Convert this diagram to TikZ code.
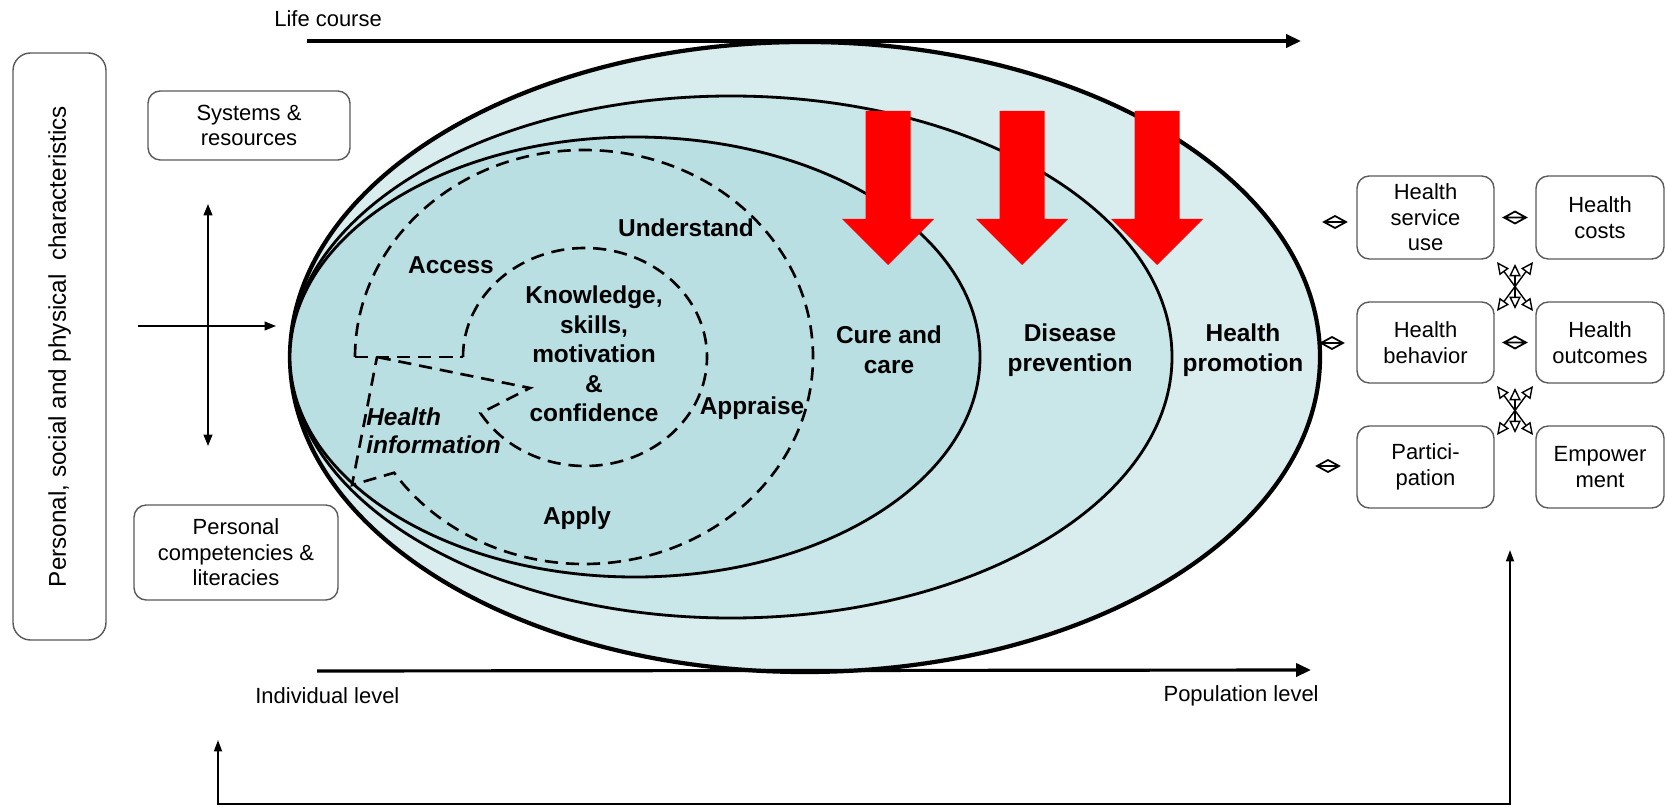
\documentclass[tikz,border=0pt]{standalone}
\usepackage{fontspec}
\setmainfont{Liberation Sans}
\usetikzlibrary{arrows.meta,calc}
\definecolor{ringA}{HTML}{D9ECEE}
\definecolor{ringB}{HTML}{C9E6E9}
\definecolor{ringC}{HTML}{B9DFE3}
\definecolor{boxline}{HTML}{5A5A5A}
\definecolor{arrowred}{HTML}{FF0000}
\newcommand\upx{0.02cm}
\newcommand\redarrow[1]{\fill[arrowred] (#1,111) ++(-22.5,0) -- ++(45,0) -- ++(0,108) -- ++(23.5,0) -- ++(-46,46) -- ++(-46,-46) -- ++(23.5,0) -- cycle;}
\newcommand\smalldbl[1]{\draw[dmd] (#1) ++(-11,0) -- ++(22,0) (#1) ++(-11,0) -- ++(11,-6) -- ++(11,6) -- ++(-11,6) -- cycle;}
\begin{document}
\begin{tikzpicture}[x=0.02cm,y=-0.02cm,
  lbl/.style={font=\fontsize{12.5}{14.5}\selectfont, align=center, inner sep=0pt},
  blbl/.style={font=\fontsize{13.9}{16.8}\selectfont\bfseries, align=center, inner sep=0pt},
  rbox/.style={draw=boxline, line width=0.8pt, rounded corners=7pt, fill=white, inner sep=0pt, align=center, font=\fontsize{12.5}{14.5}\selectfont},
  ring/.style={draw=black, line width=1.6pt},
  outring/.style={draw=black, line width=2.4pt},
  dsh/.style={draw=black, line width=1.5pt, dash pattern=on 7.5pt off 4.5pt},
  lcarrow/.style={line width=1.8pt, -{Triangle[length=8.5pt,width=7.5pt]}},
  crossarrow/.style={line width=1pt, {Triangle[length=6.5pt,width=5pt]}-{Triangle[length=6.5pt,width=5pt]}},
  onearrow/.style={line width=1pt, -{Triangle[length=6.5pt,width=5pt]}},
  fbarrow/.style={line width=1.1pt, {Triangle[length=6.5pt,width=4.5pt]}-{Triangle[length=6.5pt,width=4.5pt]}},
  xarr/.style={line width=0.8pt, {Triangle[open,length=7pt,width=6.5pt]}-{Triangle[open,length=7pt,width=6.5pt]}},
  dmd/.style={line width=1pt}
]
\useasboundingbox (0,0) rectangle (1665,807);

% nested ellipses
\fill[ringA] (805,357) ellipse [x radius=515, y radius=315];
\draw[outring] (805,357) ellipse [x radius=515, y radius=315];
\fill[ringB] (731,357) ellipse [x radius=441, y radius=261];
\draw[ring] (731,357) ellipse [x radius=441, y radius=261];
\fill[ringC] (635,357) ellipse [x radius=345, y radius=220];
\draw[ring] (635,357) ellipse [x radius=345, y radius=220];

% dashed health literacy wheel
\draw[dsh] (355,357) arc[start angle=180, end angle=506, x radius=229, y radius=207] -- (352,485) -- (377,357);
\draw[dsh] (355,357) -- (463,357);
\draw[dsh] (463,357) arc[start angle=180, end angle=509, x radius=122, y radius=109] -- (530,388) -- (377,357);

% red arrows
\redarrow{888}
\redarrow{1022}
\redarrow{1157}

% labels inside
\node[blbl] (access) at (451,265) {Access};
\node[blbl] (understand) at (686,228) {Understand};
\node[blbl] (know) at (594,354) {Knowledge,\\skills,\\motivation\\\&\\confidence};
\node[blbl] (appraise) at (752,408) {Appraise};
\node[blbl] (apply) at (577,518) {Apply};
\node[blbl, font=\fontsize{13.9}{16.2}\selectfont\bfseries\itshape, align=left, anchor=west] (hinfo) at (366,431) {Health\\information};
\node[blbl] (cure) at (889,350) {Cure and\\care};
\node[blbl] (disease) at (1070,350) {Disease\\prevention};
\node[blbl] (promo) at (1243,350) {Health\\promotion};

% axes
\node[lbl, anchor=west] (life) at (274,19) {Life course};
\node[lbl, anchor=west] (indiv) at (255,696) {Individual level};
\node[lbl, anchor=east] (popu) at (1319,696) {Population level};
\coordinate (lcA) at (307,41);
\coordinate (lcB) at (1301,41);
\coordinate (ilA) at (317,671);
\coordinate (ilB) at (1311,670);
\draw[lcarrow] (lcA) -- (lcB);
\draw[lcarrow] (ilA) -- (ilB);

% left boxes
\node[rbox, rounded corners=10pt, minimum width=93*\upx, minimum height=587*\upx] (tall) at (59.5,346.5) {};
\node[lbl, rotate=90, font=\fontsize{13.8}{16}\selectfont] (talltext) at (tall.center) {Personal, social and physical\ \ characteristics};
\node[rbox, minimum width=202*\upx, minimum height=69*\upx] (sys) at (249,125.5) {Systems \&\\resources};
\node[rbox, minimum width=204*\upx, minimum height=95*\upx] (pers) at (236,552.5) {Personal\\competencies \&\\literacies};

\coordinate (vtop) at (208,204);
\coordinate (vbot) at (208,446);
\coordinate (hl) at (138,326);
\coordinate (hr) at (276,326);
\draw[crossarrow] (vtop) -- (vbot);
\draw[onearrow] (hl) -- (hr);

% right boxes
\node[rbox, minimum width=137*\upx, minimum height=83*\upx] (svc) at (1425.5,217.5) {Health\\service\\use};
\node[rbox, minimum width=128*\upx, minimum height=83*\upx] (cost) at (1600,217.5) {Health\\costs};
\node[rbox, minimum width=137*\upx, minimum height=81*\upx] (beh) at (1425.5,342.5) {Health\\behavior};
\node[rbox, minimum width=128*\upx, minimum height=81*\upx] (outc) at (1600,342.5) {Health\\outcomes};
\node[rbox, minimum width=137*\upx, minimum height=82*\upx] (part) at (1425.5,467) {Partici-\\pation};
\node[rbox, minimum width=128*\upx, minimum height=82*\upx] (emp) at (1600,467) {Empower\\ment};

% small double arrows
\coordinate (d1) at (1335,222);
\coordinate (d2) at ($(svc.east)!0.5!(cost.west)$);
\coordinate (d3) at (1332,343);
\coordinate (d4) at ($(beh.east)!0.5!(outc.west)$);
\coordinate (d5) at (1328,466);
\smalldbl{d1}
\smalldbl{d2}
\smalldbl{d3}
\smalldbl{d4}
\smalldbl{d5}

% crossing arrows between rows
\coordinate (xa1) at (1497,262);
\coordinate (xb1) at (1533,311);
\coordinate (xc1) at (1533,262);
\coordinate (xd1) at (1497,311);
\coordinate (xe1) at (1515,264);
\coordinate (xf1) at (1515,309);
\draw[xarr] (xa1) -- (xb1);
\draw[xarr] (xc1) -- (xd1);
\draw[xarr] (xe1) -- (xf1);
\coordinate (xa2) at (1497,386);
\coordinate (xb2) at (1533,435);
\coordinate (xc2) at (1533,386);
\coordinate (xd2) at (1497,435);
\coordinate (xe2) at (1515,388);
\coordinate (xf2) at (1515,433);
\draw[xarr] (xa2) -- (xb2);
\draw[xarr] (xc2) -- (xd2);
\draw[xarr] (xe2) -- (xf2);

% feedback loop
\coordinate (fbL) at (218,740);
\coordinate (fbC) at (1510,804);
\coordinate (fbR) at (1510,550);
\draw[fbarrow] (fbL) |- (fbC) -- (fbR);
\end{tikzpicture}
\end{document}
